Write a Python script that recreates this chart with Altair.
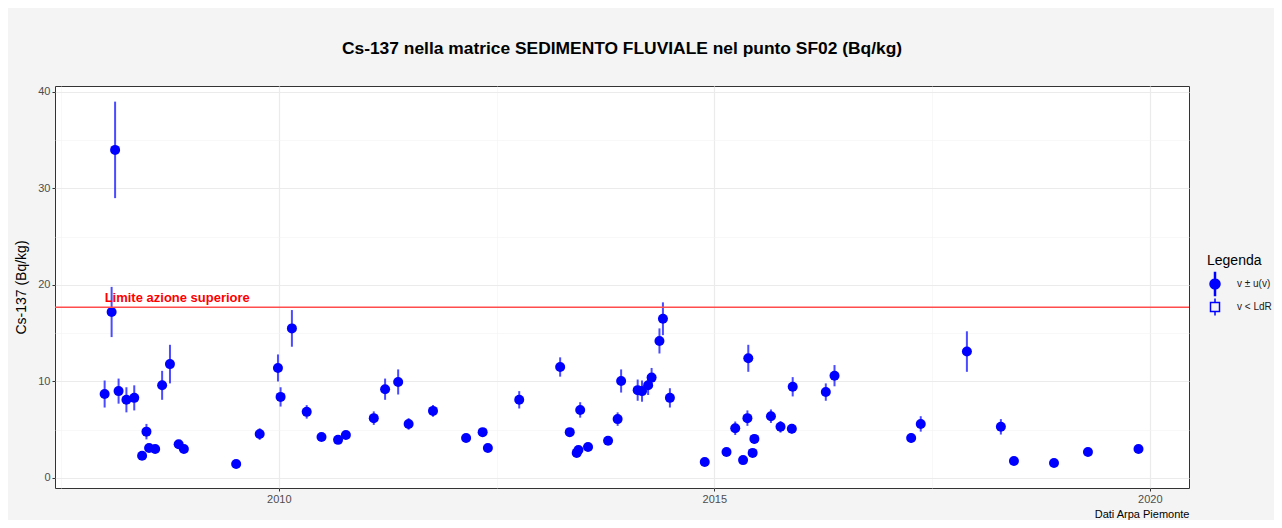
import altair as alt
import pandas as pd

# --- data ---
anni = [2008.00, 2008.08, 2008.12, 2008.16, 2008.25, 2008.34, 2008.43, 2008.48, 2008.51, 2008.58,
        2008.66, 2008.75, 2008.85, 2008.91, 2009.51, 2009.78, 2009.99, 2010.02, 2010.15, 2010.32,
        2010.49, 2010.68, 2010.77, 2011.09, 2011.22, 2011.37, 2011.49, 2011.77, 2012.15, 2012.34,
        2012.40, 2012.76, 2013.23, 2013.34, 2013.42, 2013.44, 2013.46, 2013.55, 2013.78, 2013.89,
        2013.93, 2014.12, 2014.17, 2014.24, 2014.28, 2014.37, 2014.41, 2014.49, 2014.89, 2015.14,
        2015.24, 2015.33, 2015.38, 2015.39, 2015.44, 2015.46, 2015.65, 2015.76, 2015.89, 2015.90,
        2016.28, 2016.38, 2017.26, 2017.37, 2017.90, 2018.29, 2018.44, 2018.90, 2019.29, 2019.87]
valori = [8.7, 17.2, 34.0, 9.0, 8.1, 8.3, 2.3, 4.8, 3.1, 3.0,
          9.6, 11.8, 3.5, 3.0, 1.45, 4.55, 11.4, 8.4, 15.5, 6.85,
          4.25, 3.95, 4.45, 6.2, 9.2, 9.95, 5.6, 6.95, 4.15, 4.75,
          3.1, 8.1, 11.5, 4.75, 2.6, 2.9, 7.05, 3.2, 3.85, 6.1,
          10.05, 9.1, 9.0, 9.6, 10.4, 14.2, 16.5, 8.3, 1.65, 2.7,
          5.15, 1.85, 6.2, 12.4, 2.6, 4.05, 6.4, 5.3, 5.1, 9.45,
          8.9, 10.6, 4.15, 5.6, 13.1, 5.3, 1.75, 1.55, 2.7, 3.0]
incertezze = [1.4, 2.6, 5.0, 1.3, 1.3, 1.3, 0.3, 0.8, 0.4, 0.3,
              1.5, 2.0, 0.4, 0.3, 0.2, 0.6, 1.4, 1.0, 1.9, 0.7,
              0.4, 0.4, 0.4, 0.7, 1.1, 1.3, 0.6, 0.6, 0.4, 0.4,
              0.3, 0.9, 1.0, 0.4, 0.3, 0.3, 0.8, 0.4, 0.4, 0.7,
              1.2, 1.1, 1.1, 1.0, 1.0, 1.3, 1.7, 1.0, 0.2, 0.3,
              0.7, 0.2, 0.8, 1.4, 0.3, 0.5, 0.7, 0.6, 0.5, 1.0,
              0.9, 1.1, 0.5, 0.8, 2.1, 0.8, 0.2, 0.2, 0.3, 0.4]

limite = 17.7
etichetta_limite = "Limite azione superiore"
x_etichetta = 2008.0
titolo = "Cs-137 nella matrice SEDIMENTO FLUVIALE nel punto SF02 (Bq/kg)"
titolo_y = "Cs-137 (Bq/kg)"
didascalia = "Dati Arpa Piemonte"
legenda_titolo = "Legenda"
legenda_voci = ["v ± u(v)", "v < LdR"]
x_ticks = [2007.5, 2010, 2012.5, 2015, 2017.5, 2020]
y_ticks = [0, 5, 10, 15, 20, 25, 30, 35, 40]

df = pd.DataFrame({"anno": anni, "valore": valori, "u": incertezze})
df["lo"] = df["valore"] - df["u"]
df["hi"] = df["valore"] + df["u"]

df_lim = pd.DataFrame({"limite": [limite], "anno": [x_etichetta], "testo": [etichetta_limite]})
df_leg = pd.DataFrame({"tipo": legenda_voci, "anno": [None, None], "valore": [None, None]})

FONT = "Liberation Sans"
BLUE = "#0000FF"

xscale = alt.Scale(domain=[2007.43, 2020.45], nice=False, zero=False)
yscale = alt.Scale(domain=[-1.04, 40.62], nice=False, zero=False)


def cond(test, a, b):
    return {"condition": {"test": test, "value": a}, "value": b}


xmaj = "datum.value % 5 === 0"
ymaj = "datum.value % 10 === 0"

xaxis = alt.Axis(
    values=x_ticks, format="d",
    labelExpr=f"{xmaj} ? datum.label : ''",
    gridColor=cond(xmaj, "#EBEBEB", "#F4F4F4"),
    gridWidth=cond(xmaj, 1.2, 0.6),
    tickOpacity=cond(xmaj, 1, 0),
    domain=False, tickColor="#333333", tickSize=3, tickWidth=1,
    labelFontSize=11, labelColor="#4D4D4D", labelPadding=2,
    titleAnchor="end", titleFontSize=11, titleFontWeight="normal",
    titleColor="#000000", titlePadding=4,
)
yaxis = alt.Axis(
    values=y_ticks,
    labelExpr=f"{ymaj} ? datum.label : ''",
    gridColor=cond(ymaj, "#EBEBEB", "#F4F4F4"),
    gridWidth=cond(ymaj, 1.2, 0.6),
    tickOpacity=cond(ymaj, 1, 0),
    domain=False, tickColor="#333333", tickSize=3, tickWidth=1,
    labelFontSize=11, labelColor="#4D4D4D", labelPadding=2,
    titleFontSize=14, titleFontWeight="normal", titleColor="#000000",
    titlePadding=9,
)


def X(field):
    return alt.X(field, type="quantitative", scale=xscale, axis=xaxis, title=didascalia)


def Y(field):
    return alt.Y(field, type="quantitative", scale=yscale, axis=yaxis, title=titolo_y)


barre = alt.Chart(df).mark_rule(color="#2B2BFF", strokeWidth=2, opacity=0.85).encode(
    x=X("anno"), y=Y("lo"), y2="hi"
)
punti = alt.Chart(df).mark_circle(size=100, color=BLUE, opacity=1).encode(
    x=X("anno"), y=Y("valore")
)
linea = alt.Chart(df_lim).mark_rule(color="#FF4D4D", strokeWidth=1.5).encode(
    y=Y("limite")
)
testo = alt.Chart(df_lim).mark_text(
    align="left", baseline="alphabetic", dy=-5, color="#FF0000",
    fontSize=13, fontWeight="bold", font=FONT
).encode(x=X("anno"), y=Y("limite"), text="testo:N")

p_circ = "M-1,0A1,1 0 1,1 1,0A1,1 0 1,1 -1,0Z M-0.1,-2.3L0.1,-2.3L0.1,2.3L-0.1,2.3Z"
p_quad = "M-0.9,-0.9L0.9,-0.9L0.9,0.9L-0.9,0.9Z M0,-1.7L0,-0.9 M0,0.9L0,1.7"

leg = alt.Legend(
    title=legenda_titolo, orient="none", legendX=1152, legendY=168,
    titleFontSize=14, titleFontWeight="normal", titleColor="#000000", titlePadding=10,
    titleAnchor="start", titleAlign="left",
    labelFontSize=10, labelColor="#1A1A1A", symbolOffset=2, labelOffset=16,
    rowPadding=-4, padding=0, symbolSize=100, symbolStrokeWidth=1.5,
)
legenda = alt.Chart(df_leg).mark_point(
    size=100, stroke=BLUE, color=BLUE, strokeWidth=1.5, opacity=1
).encode(
    x=X("anno"), y=Y("valore"),
    shape=alt.Shape("tipo:N", scale=alt.Scale(domain=legenda_voci, range=[p_circ, p_quad]), legend=leg),
    fill=alt.Fill("tipo:N", scale=alt.Scale(domain=legenda_voci, range=[BLUE, "transparent"]), legend=leg),
)

chart = alt.layer(barre, punti, linea, testo, legenda).properties(
    width=1134, height=402,
    title=alt.TitleParams(titolo, fontSize=17.4, fontWeight="bold", anchor="middle",
                          frame="group", offset=29, color="#000000", font=FONT),
    autosize=alt.AutoSizeParams(type="none"),
    padding={"left": 47, "top": 78, "right": 85, "bottom": 32},
    background="#F4F4F4",
).configure(font=FONT).configure_view(stroke="#333333", strokeWidth=1, fill="white")

chart.save("out.html", embed_options={"renderer": "svg", "actions": False})
